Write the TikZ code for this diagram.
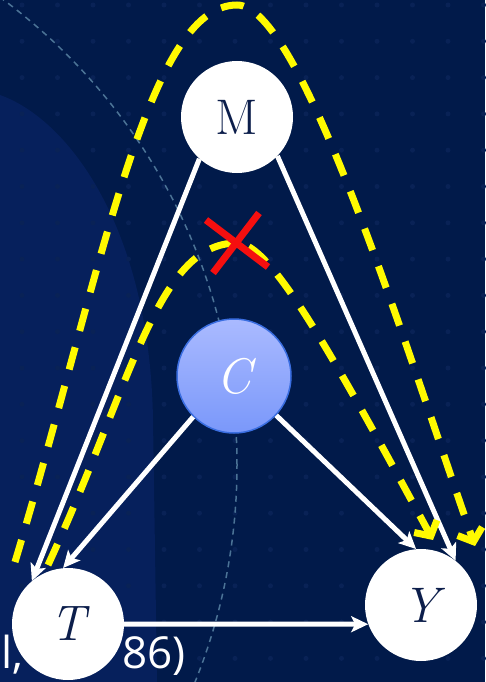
\documentclass[tikz,border=0pt]{standalone}
\usepackage{fontspec}
\newfontfamily\citefont{Open Sans}
\usetikzlibrary{arrows.meta}
\definecolor{bgnavy}{RGB}{1,26,74}
\definecolor{blobblue}{RGB}{6,32,92}
\definecolor{gridtone}{RGB}{9,34,86}
\definecolor{arcgrey}{RGB}{75,115,150}
\definecolor{labelnavy}{RGB}{12,30,75}
\definecolor{ctop}{RGB}{170,186,255}
\definecolor{cbot}{RGB}{122,152,250}
\definecolor{cedge}{RGB}{58,110,225}
\definecolor{ylw}{RGB}{255,250,0}
\definecolor{xred}{RGB}{245,15,15}
\tikzset{
  varnode/.style={circle, minimum size=112pt, inner sep=0pt, fill=white,
    text=labelnavy, font=\fontsize{50}{60}\selectfont},
  cnode/.style={circle, minimum size=114pt, inner sep=0pt, top color=ctop,
    bottom color=cbot, draw=cedge, line width=1.5pt, text=white,
    font=\fontsize{50}{60}\selectfont},
  whitearrow/.style={draw=white, line width=5pt,
    -{Stealth[length=17pt,width=16pt,inset=4pt]}},
  ydash/.style={draw=ylw, line width=7pt, dash pattern=on 23pt off 17pt,
    -{Straight Barb[length=11pt,width=26pt]}},
  xstroke/.style={draw=xred, line width=7pt},
  citetext/.style={text=white, font=\citefont\fontsize{44}{50}\selectfont,
    inner sep=0pt, anchor=base west}
}
\begin{document}
\begin{tikzpicture}[x=1pt,y=-1pt]
\useasboundingbox (0,0) rectangle (485,682);
% background
\fill[bgnavy] (0,0) rectangle (485,682);
\fill[blobblue] (0,95) .. controls (70,120) and (150,230) .. (153,420)
  -- (157,682) -- (0,682) -- cycle;
\foreach \i in {0,...,13} {
  \foreach \j in {0,...,19} {
    \fill[gridtone] (22+35.5*\i, 5+36.3*\j) circle (2.5pt);
  }
}
\draw[arcgrey, line width=1.5pt, dash pattern=on 6pt off 5pt] (-343,465) circle (580pt);
% citation fragment
\node[citetext] (cite1) at (1,668) {l,};
\node[citetext] (cite2) at (122,668) {86)};
% nodes
\node[varnode] (M) at (237,117) {M};
\node[cnode] (C) at (234,376) {\itshape C};
\node[varnode] (T) at (68,624) {\itshape T};
\node[varnode] (Y) at (421,605) {\itshape Y};
% white arrows
\draw[whitearrow] (M.228) -- (T.130);
\draw[whitearrow] (M.316) -- (Y.52);
\draw[whitearrow] (C.225) -- (T.95);
\draw[whitearrow] (C.317) -- (Y.95);
\draw[whitearrow] (T.east) -- (Y.200);
% yellow dashed paths
\coordinate (yi0) at (48,565);
\coordinate (yia) at (237,243);
\coordinate (yi1) at (433,540);
\coordinate (yo0) at (15,562);
\coordinate (yoa) at (237,5);
\coordinate (yo1) at (475,546);
\draw[ydash] (yi0) .. controls (132,383) and (157,243) .. (yia)
  .. controls (270,243) and (330,350) .. (yi1);
\draw[ydash] (yo0) .. controls (102,272) and (147,5) .. (yoa)
  .. controls (300,5) and (400,330) .. (yo1);
% red cross
\coordinate (xa1) at (206,220);
\coordinate (xa2) at (268,267);
\coordinate (xb1) at (259,213);
\coordinate (xb2) at (213,273);
\draw[xstroke] (xa1) -- (xa2);
\draw[xstroke] (xb1) -- (xb2);
\end{tikzpicture}
\end{document}
